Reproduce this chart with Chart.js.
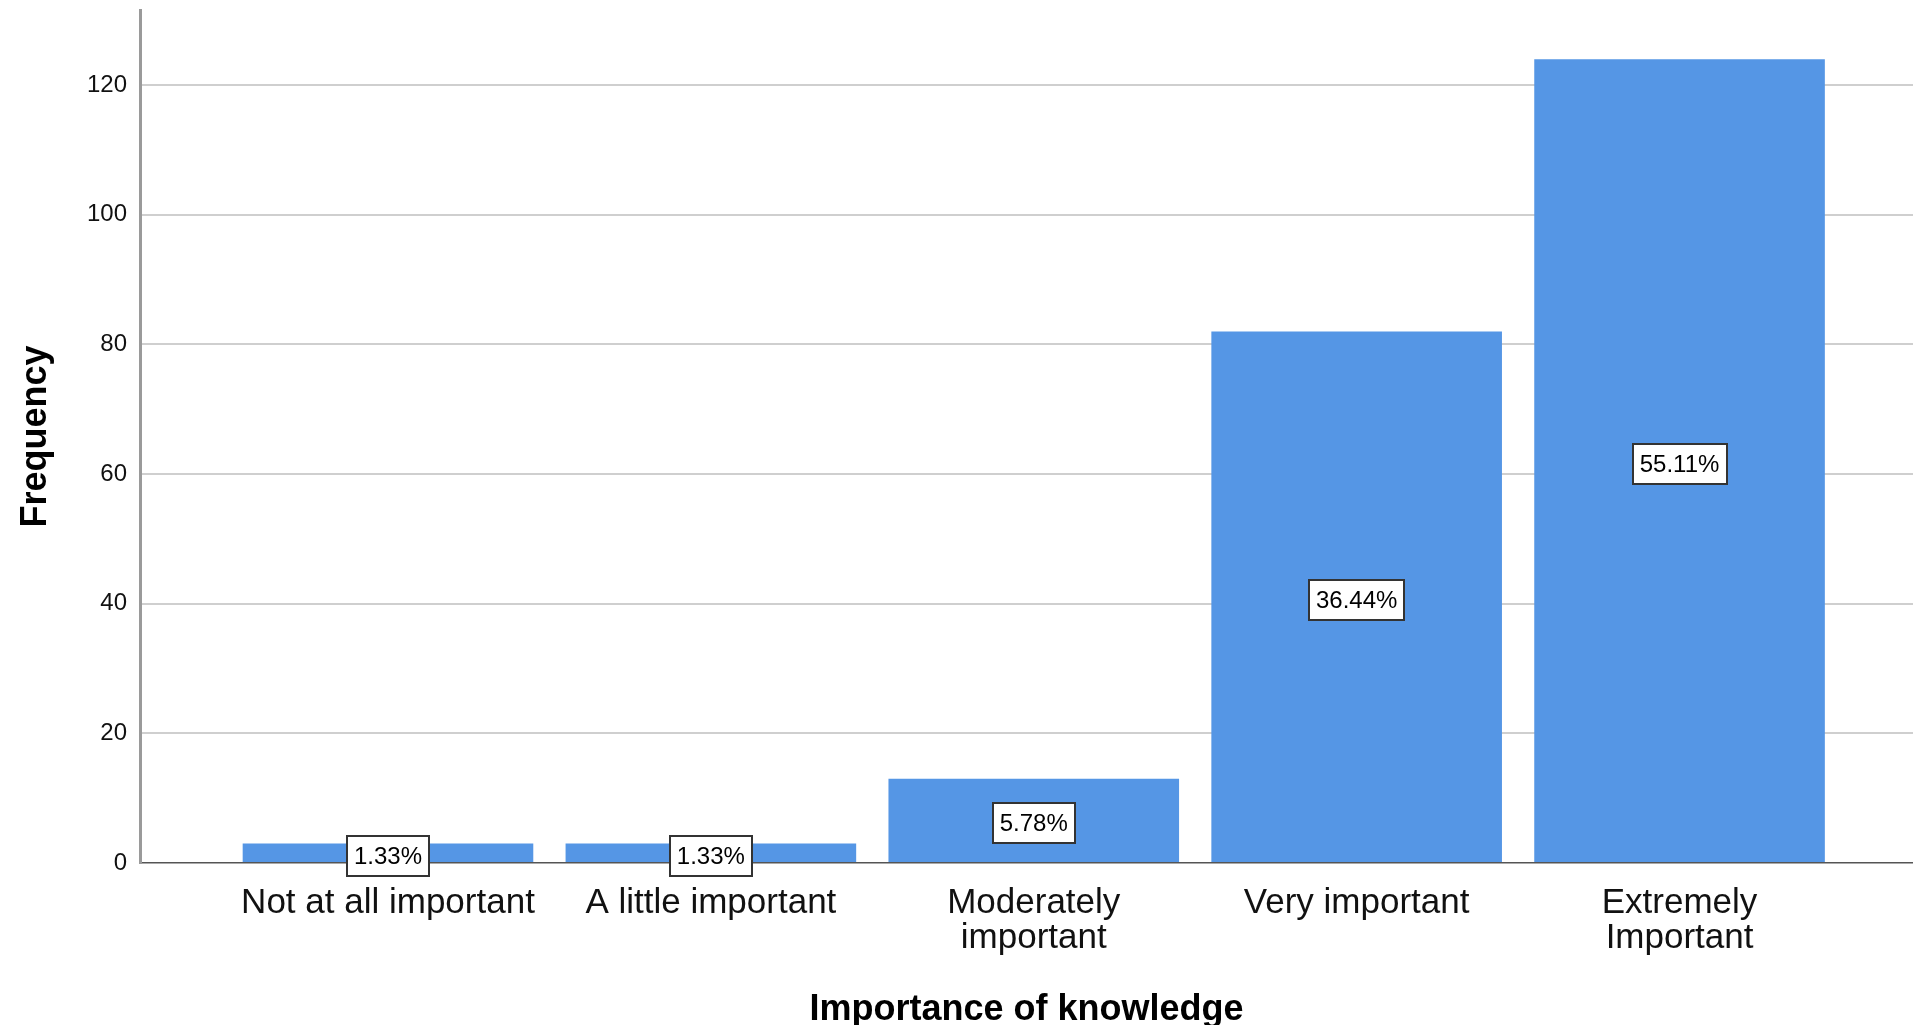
<!DOCTYPE html>
<html>
<head>
<meta charset="utf-8">
<title>Importance of knowledge</title>
<script src="https://cdn.jsdelivr.net/npm/chart.js@4.4.1/dist/chart.umd.min.js"></script>
<style>
  html, body { margin: 0; padding: 0; background: #ffffff; }
  #wrap { width: 1913px; height: 1025px; position: relative; }
</style>
</head>
<body>
<div id="wrap"><canvas id="knowledgeChart"></canvas></div>
<script>
"use strict";

// Data
const categoryLabels = [
  ["Not at all important"],
  ["A little important"],
  ["Moderately", "important"],
  ["Very important"],
  ["Extremely", "Important"],
];
const frequencies = [3, 3, 13, 82, 124];
const percentLabels = ["1.33%", "1.33%", "5.78%", "36.44%", "55.11%"];
const yTicks = [0, 20, 40, 60, 80, 100, 120];

const FONT = '"Liberation Sans", Arial, sans-serif';
Chart.defaults.font.family = FONT;

// white boxes with the percentage, centred on each bar
const percentBoxes = {
  id: "percentBoxes",
  afterDatasetsDraw(chart) {
    const { ctx } = chart;
    const meta = chart.getDatasetMeta(0);
    ctx.save();
    ctx.font = "24px " + FONT;
    ctx.textAlign = "center";
    ctx.textBaseline = "middle";
    meta.data.forEach((bar, i) => {
      const text = percentLabels[i];
      const cy = Math.round((bar.y + bar.base) / 2) + 3;
      const w = Math.round(ctx.measureText(text).width + 14);
      const h = 40;
      const left = Math.round(bar.x - w / 2);
      ctx.fillStyle = "#ffffff";
      ctx.fillRect(left, cy - h / 2, w, h);
      ctx.lineWidth = 2;
      ctx.strokeStyle = "#333333";
      ctx.strokeRect(left, cy - h / 2, w, h);
      ctx.fillStyle = "#000000";
      ctx.fillText(text, bar.x, cy + 1);
    });
    ctx.restore();
  },
};

const chartCtx = document.getElementById("knowledgeChart").getContext("2d");

new Chart(chartCtx, {
  type: "bar",
  data: {
    datasets: [
      {
        label: "Frequency",
        data: frequencies.map((v, i) => ({ x: i, y: v })),
        backgroundColor: "#5596e5",
        borderWidth: 0,
        barPercentage: 0.9,
        categoryPercentage: 1.0,
      },
    ],
  },
  options: {
    responsive: true,
    maintainAspectRatio: false,
    animation: false,
    devicePixelRatio: 1,
    layout: { padding: 0 },
    plugins: {
      legend: { display: false },
      tooltip: { enabled: false },
    },
    scales: {
      x: {
        type: "linear",
        min: -0.768,
        max: 4.723,
        offset: false,
        grid: { display: false, drawTicks: false },
        border: { display: true, color: "#555555", width: 1.5 },
        afterBuildTicks: (scale) => {
          scale.ticks = categoryLabels.map((_, i) => ({ value: i }));
        },
        ticks: {
          autoSkip: false,
          maxRotation: 0,
          minRotation: 0,
          padding: 23,
          color: "#111111",
          font: { size: 35, lineHeight: 1.0 },
          callback: (value) => categoryLabels[value],
        },
        title: {
          display: true,
          text: "Importance of knowledge",
          color: "#000000",
          font: { size: 36, weight: "bold", lineHeight: 0.8 },
          padding: { top: 0, bottom: 1 },
        },
        afterFit: (scale) => {
          scale.height = 162;
          scale.paddingLeft = 0;
          scale.paddingRight = 0;
        },
      },
      y: {
        min: 0,
        max: 131.6,
        afterBuildTicks: (scale) => {
          scale.ticks = yTicks.map((v) => ({ value: v }));
        },
        grid: {
          color: (c) => (c.tick && c.tick.value === 0 ? "rgba(0,0,0,0)" : "#cfcfcf"),
          lineWidth: 2,
          drawTicks: false,
        },
        border: { color: "#9a9a9a", width: 3 },
        ticks: {
          padding: 13,
          color: "#111111",
          font: { size: 24 },
        },
        title: {
          display: true,
          text: "Frequency",
          color: "#000000",
          font: { size: 36, weight: "bold", lineHeight: 1.0 },
          padding: { top: 18, bottom: 0 },
        },
        afterFit: (scale) => {
          scale.width = 140;
          scale.paddingTop = 10;
        },
      },
    },
  },
  plugins: [percentBoxes],
});
</script>
</body>
</html>
